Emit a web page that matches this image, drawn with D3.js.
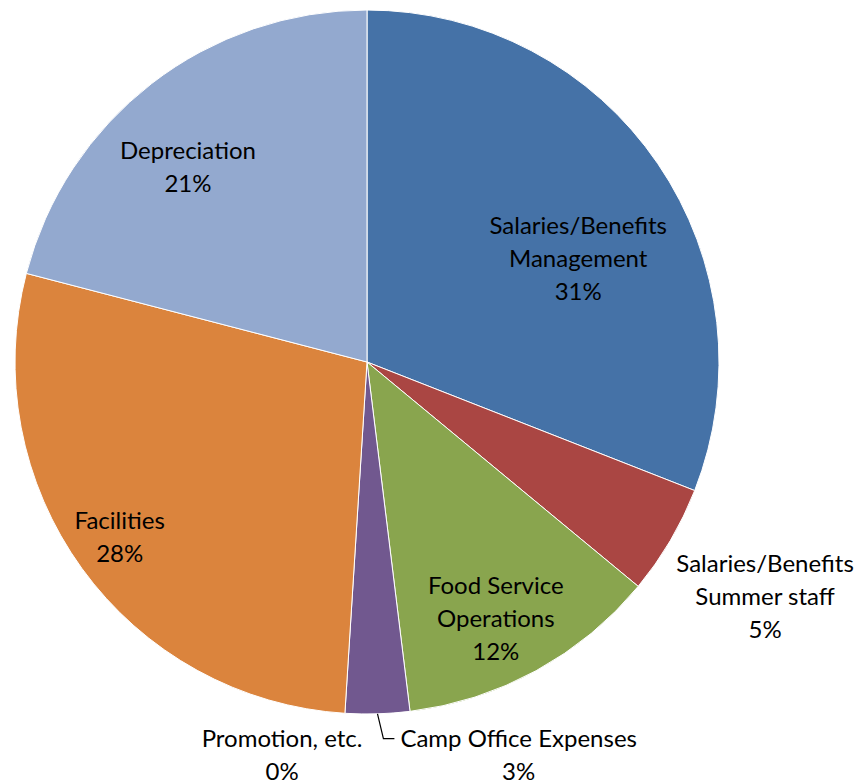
<!DOCTYPE html>
<html><head><meta charset="utf-8">
<script src="https://cdn.jsdelivr.net/npm/d3@7"></script>
<style>body{margin:0;background:#fff}svg{display:block}</style>
</head><body>
<svg id="chart" width="857" height="784"></svg>
<script>
// ---- data ----
const categories = ["Salaries/Benefits Management","Salaries/Benefits Summer staff","Food Service Operations","Camp Office Expenses","Promotion, etc.","Facilities","Depreciation"];
const labelLines = [["Salaries/Benefits","Management"],["Salaries/Benefits","Summer staff"],["Food Service","Operations"],["Camp Office Expenses"],["Promotion, etc."],["Facilities"],["Depreciation"]];
const values = [30.95, 5.05, 12.05, 2.95, 0, 28.05, 20.95];
const colors = ["#4572A7","#AA4643","#89A54E","#71588F","#4198AF","#DB843D","#93A9CF"];

// ---- layout (label anchor: polar angle deg clockwise from top, radius px) ----
const labelAngle = [64.0, 120.5, 153.3, 158.9, 192.2, 234.7, 317.5];
const labelRadius = [235, 462, 286.7, 421.4, 402, 303, 265];
const cx = 367, cy = 362, R = 352;
const fontSize = 24, lineH = 33;

const svg = d3.select("#chart");
const g = svg.append("g").attr("transform", `translate(${cx},${cy})`);
const data = categories.map((c,i)=>({name:c, value:values[i], color:colors[i], lines:labelLines[i], i}));
const pie = d3.pie().value(d=>d.value).sort(null);
const arcs = pie(data);
const arc = d3.arc().innerRadius(0).outerRadius(R);

g.selectAll("path.slice").data(arcs.filter(d=>d.data.value>0)).join("path")
  .attr("class","slice")
  .attr("d", arc)
  .attr("fill", d=>d.data.color)
  .attr("stroke","#fff").attr("stroke-width",1);

const total = d3.sum(values);
const pct = d3.format(".0%");

arcs.forEach((a,i)=>{
  const th = labelAngle[i]*Math.PI/180, r = labelRadius[i];
  const x = r*Math.sin(th), y = -r*Math.cos(th);
  const lines = a.data.lines.concat([pct(a.data.value/total)]);
  const n = lines.length;
  const t = g.append("text")
    .attr("font-family","Lato, 'Open Sans', sans-serif")
    .attr("font-size", fontSize)
    .attr("fill","#000")
    .attr("text-anchor","middle");
  lines.forEach((l,k)=>{
    t.append("tspan").attr("x", x)
      .attr("y", y + (k - (n-1)/2)*lineH)
      .attr("dy","0.35em")
      .text(l);
  });
  if (a.data.name === "Camp Office Expenses") {
    const mid = (a.startAngle + a.endAngle)/2;
    const p0 = [R*Math.sin(mid), -R*Math.cos(mid)];
    const bb = t.node().getBBox();
    const ey = y - (n-1)/2*lineH;
    const ex = bb.x - 17;
    g.append("path")
      .attr("d", `M${p0[0]},${p0[1]}L${ex},${ey}L${ex+11},${ey}`)
      .attr("fill","none").attr("stroke","#000").attr("stroke-width",1.2);
  }
});
</script>
</body></html>
